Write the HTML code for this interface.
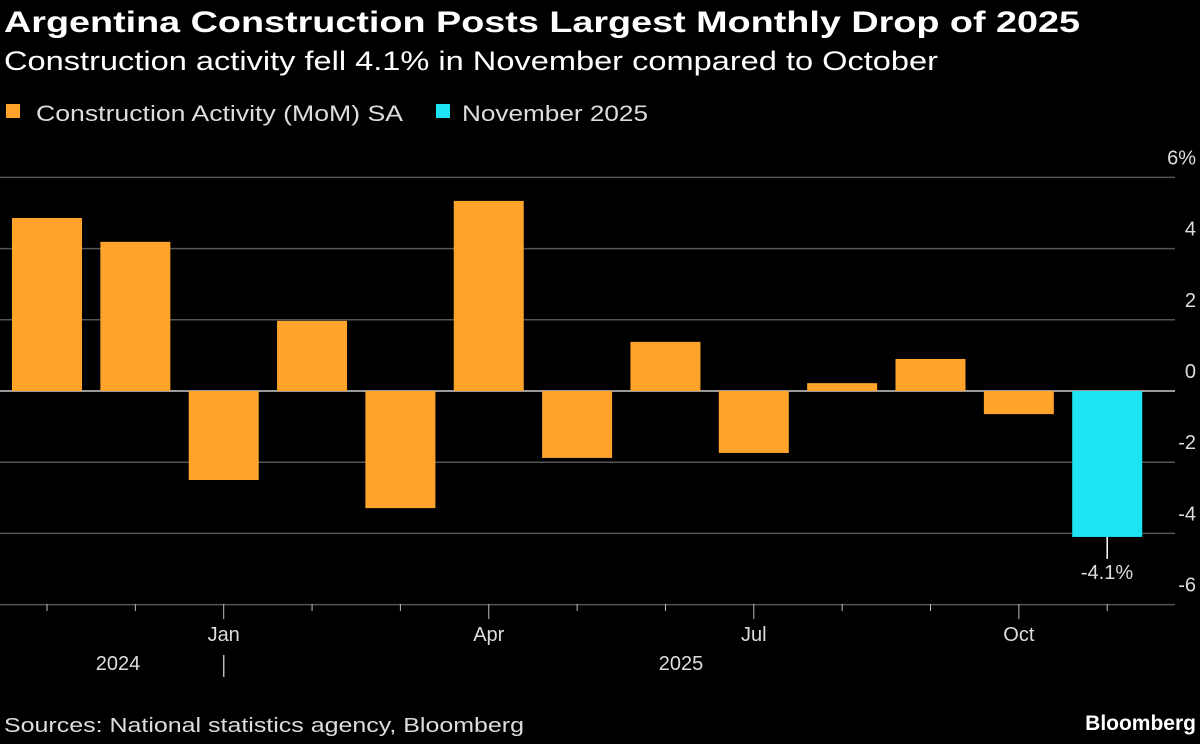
<!DOCTYPE html>
<html><head><meta charset="utf-8"><style>
body{margin:0;background:#000;width:1200px;height:739px;overflow:hidden;font-family:"Liberation Sans",sans-serif;color:#fff}
</style></head><body>
<svg width="1200" height="739" xmlns="http://www.w3.org/2000/svg">
<text x="4" y="32" font-size="30" font-weight="bold" fill="#fff" textLength="1076" lengthAdjust="spacingAndGlyphs">Argentina Construction Posts Largest Monthly Drop of 2025</text>
<text x="4" y="70" font-size="27" fill="#fff" textLength="934" lengthAdjust="spacingAndGlyphs">Construction activity fell 4.1% in November compared to October</text>
<g>
<rect x="6" y="104" width="14" height="14" fill="#ffa32b"/>
<text x="36" y="121" font-size="22" fill="#ddd" textLength="367" lengthAdjust="spacingAndGlyphs">Construction Activity (MoM) SA</text>
<rect x="436" y="104" width="14" height="14" fill="#1de3f2"/>
<text x="462" y="121" font-size="22" fill="#ddd" textLength="186" lengthAdjust="spacingAndGlyphs">November 2025</text>
</g>
<g id="grid"></g><g id="bars"></g><g id="xaxis"></g>
<text x="1107" y="579" font-size="20" fill="#ddd" text-anchor="middle">-4.1%</text>
<text x="4" y="732" font-size="20" fill="#ddd" textLength="520" lengthAdjust="spacingAndGlyphs">Sources: National statistics agency, Bloomberg</text>
<text x="1196" y="730" font-size="21" font-weight="bold" fill="#fff" text-anchor="end">Bloomberg</text>
</svg>
<script>
const months=["Nov","Dec","Jan","Feb","Mar","Apr","May","Jun","Jul","Aug","Sep","Oct","Nov"];
const values=[4.86,4.19,-2.5,1.97,-3.29,5.34,-1.88,1.38,-1.74,0.22,0.9,-0.65,-4.1];
const yTicks=[6,4,2,0,-2,-4,-6];
const yLabels=["6%","4","2","0","-2","-4","-6"];
const majorMonths=["Jan","Apr","Jul","Oct"];
const NS="http://www.w3.org/2000/svg";
const y=v=>391-v*35.6;
const x=i=>47+i*88.35;
const bw=70;
function mk(t,a,p){const e=document.createElementNS(NS,t);for(const k in a)e.setAttribute(k,a[k]);p.appendChild(e);return e;}
const g=document.getElementById('grid');
yTicks.forEach((t,i)=>{
 const l=mk('line',{x1:0,x2:1175,y1:y(t),y2:y(t),stroke:t===0?'#ccc':'#555','stroke-width':1.5},g);
 
 
 const tx=mk('text',{x:1196,y:y(t)-13,'font-size':20,fill:'#ddd','text-anchor':'end'},g);
 tx.textContent=yLabels[i];
 
 
});
const b=document.getElementById('bars');
values.forEach((v,i)=>{
 const r=mk('rect',{x:x(i)-bw/2,y:Math.min(y(v),y(0)),width:bw,height:Math.abs(y(v)-y(0)),fill:i===values.length-1?'#1de3f2':'#ffa32b'},b);
 
 
});
const last=values.length-1;
const al=mk('line',{x1:x(last),x2:x(last),y1:y(values[last]),y2:y(values[last])+22,stroke:'#fff','stroke-width':1.5},b);


const xa=document.getElementById('xaxis');
months.forEach((m,i)=>{
 const maj=majorMonths.includes(m);
 const t=mk('line',{x1:x(i),x2:x(i),y1:604,y2:maj?619:611,stroke:'#bbb','stroke-width':1},xa);
 
 
 if(maj){const tx=mk('text',{x:x(i),y:641,'font-size':20,fill:'#ddd','text-anchor':'middle'},xa);tx.textContent=m;
 
 }
});
const y1=mk('text',{x:118,y:670,'font-size':20,fill:'#ddd','text-anchor':'middle'},xa);y1.textContent='2024';


const y2=mk('text',{x:681,y:670,'font-size':20,fill:'#ddd','text-anchor':'middle'},xa);y2.textContent='2025';


const yd=mk('line',{x1:x(2),x2:x(2),y1:655,y2:677,stroke:'#bbb','stroke-width':1.5},xa);


</script>
</body></html>
